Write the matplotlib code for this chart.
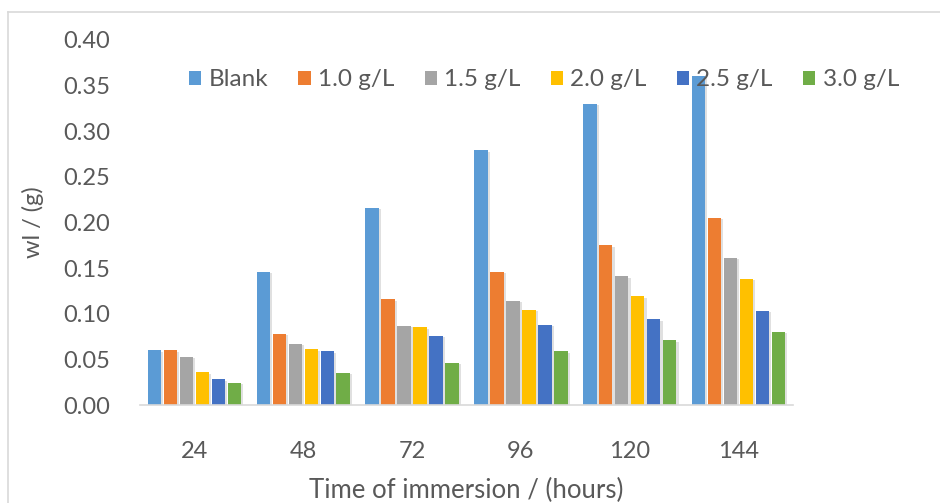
import matplotlib
matplotlib.use("Agg")
import matplotlib.pyplot as plt
import matplotlib.patheffects as pe
from matplotlib.lines import Line2D
from matplotlib.patches import Patch
import numpy as np

plt.rcParams['font.family'] = ['Lato', 'DejaVu Sans']

hours = ["24", "48", "72", "96", "120", "144"]
series_names = ["Blank", "1.0 g/L", "1.5 g/L", "2.0 g/L", "2.5 g/L", "3.0 g/L"]
blank = [0.060, 0.146, 0.216, 0.279, 0.330, 0.361]
c_1_0 = [0.060, 0.078, 0.116, 0.146, 0.175, 0.205]
c_1_5 = [0.053, 0.067, 0.087, 0.114, 0.141, 0.161]
c_2_0 = [0.036, 0.061, 0.085, 0.104, 0.119, 0.138]
c_2_5 = [0.028, 0.059, 0.076, 0.088, 0.094, 0.103]
c_3_0 = [0.024, 0.035, 0.046, 0.059, 0.071, 0.080]
series = [blank, c_1_0, c_1_5, c_2_0, c_2_5, c_3_0]
colors = ["#5B9BD5", "#ED7D31", "#A5A5A5", "#FFC000", "#4472C4", "#70AD47"]

text_color = "#595959"
W, H = 940, 503
fig = plt.figure(figsize=(W / 100, H / 100), dpi=100)
ax = fig.add_axes([140 / W, 1 - 405 / H, (793 - 140) / W, (405 - 40) / H])

x = np.arange(len(hours))
pitch = 0.147
width = 0.124
shadow = [pe.SimplePatchShadow(offset=(1.5, -1), shadow_rgbFace="#000000", alpha=0.12), pe.Normal()]
for i, (vals, col) in enumerate(zip(series, colors)):
    ax.bar(x + (i - 2.5) * pitch, vals, width=width, color=col, zorder=2,
           path_effects=shadow)

ax.set_xlim(-0.5, len(hours) - 0.5)
ax.set_ylim(0, 0.40)
yt = np.arange(0, 0.401, 0.05)
ax.set_yticks(yt)
ax.set_yticklabels([f"{v:.2f}" for v in yt])
ax.set_xticks(x)
ax.set_xticklabels(hours)
ax.tick_params(axis='both', length=0, labelsize=17, colors=text_color)
ax.tick_params(axis='y', pad=21.5)
ax.tick_params(axis='x', pad=26)
for s in ["top", "right", "left"]:
    ax.spines[s].set_visible(False)
ax.spines["bottom"].set_color("#d9d9d9")
ax.spines["bottom"].set_linewidth(1.2)

ax.set_xlabel("Time of immersion / (hours)", fontsize=18.5, color=text_color)
ax.xaxis.set_label_coords(0.5, (405 - 490) / 365)
ax.xaxis.label.set_va("center")
ax.set_ylabel("wl / (g)", fontsize=17, color=text_color)
ax.yaxis.set_label_coords((33 - 140) / 653, 0.5)
ax.yaxis.label.set_va("center")

handles = [Patch(facecolor=c, edgecolor='none') for c in colors]
fig.legend(handles, series_names, loc="center", bbox_to_anchor=(544 / W, 1 - 80 / H),
           ncol=6, frameon=False, fontsize=17.5, labelcolor=text_color,
           handlelength=0.5, handleheight=0.5, handletextpad=0.3, columnspacing=1.25)

# outer chart frame
fig.add_artist(Line2D([8 / W, 8 / W], [0, 1 - 12 / H], transform=fig.transFigure, color="#d9d9d9", lw=1.2))
fig.add_artist(Line2D([8 / W, 1], [1 - 12 / H, 1 - 12 / H], transform=fig.transFigure, color="#d9d9d9", lw=1.2))

fig.savefig("out.png", dpi=100, facecolor="white")
